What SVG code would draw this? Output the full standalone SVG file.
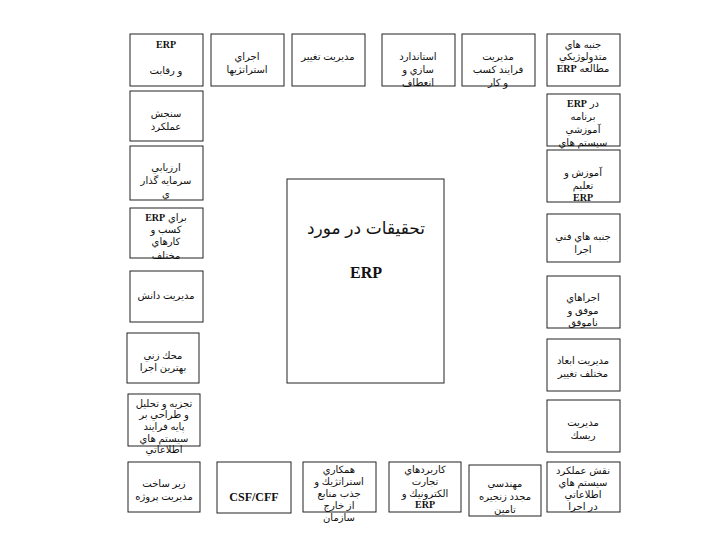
<svg xmlns="http://www.w3.org/2000/svg" width="720" height="540" viewBox="0 0 720 540">
<style>
rect{fill:#fff;stroke:#222;stroke-width:1}
text{font-family:"Liberation Sans","DejaVu Sans",sans-serif;font-size:10px;fill:#111;text-anchor:middle;direction:rtl}
.b{font-family:"Liberation Serif","DejaVu Serif",serif;font-weight:bold}
.t{font-size:17px}
.e{font-family:"Liberation Serif","DejaVu Serif",serif;font-weight:bold;font-size:16px}
.c{font-family:"Liberation Serif","DejaVu Serif",serif;font-weight:bold;font-size:12px}
</style>
<rect x="0" y="0" width="720" height="540" style="fill:#fff;stroke:none"/>
<g id="connectors"/>
<g id="n-center"><rect x="287" y="179" width="157" height="204"/>
<text class="t" x="366" y="234">تحقيقات در مورد</text>
<text class="e" x="366" y="278">ERP</text></g>

<g id="n-top1"><rect x="130" y="34" width="73" height="52"/>
<text class="b" x="166" y="48">ERP</text><text x="166" y="74">و رقابت</text></g>
<g id="n-top2"><rect x="211" y="34" width="73" height="52"/>
<text x="247" y="60">اجراي</text><text x="247" y="73">استراتژيها</text></g>
<g id="n-top3"><rect x="292" y="34" width="73" height="52"/>
<text x="328" y="60">مديريت تغيير</text></g>
<g id="n-top4"><rect x="382" y="34" width="73" height="52"/>
<text x="418" y="60">استاندارد</text><text x="418" y="73">سازي و</text><text x="418" y="86">انعطاف</text></g>
<g id="n-top5"><rect x="462" y="34" width="73" height="52"/>
<text x="498" y="60">مديريت</text><text x="498" y="73">فرايند كسب</text><text x="498" y="86">و كار</text></g>
<g id="n-top6"><rect x="547" y="34" width="73" height="52"/>
<text x="583" y="48">جنبه هاي</text><text x="583" y="60">متدولوژيكي</text><text x="583" y="72">مطالعه <tspan class="b">ERP</tspan></text></g>

<g id="n-r1"><rect x="547" y="94" width="73" height="52"/>
<text x="583" y="107">در <tspan class="b">ERP</tspan></text><text x="583" y="120">برنامه</text><text x="583" y="133">آموزشي</text><text x="583" y="146">سيستم هاي</text><text x="583" y="159">اطلاعاتي</text></g>
<g id="n-r2"><rect x="547" y="150" width="73" height="52"/>
<text x="583" y="176">آموزش و</text><text x="583" y="189">تعليم</text><text class="b" x="583" y="201">ERP</text></g>
<g id="n-r3"><rect x="547" y="214" width="73" height="48"/>
<text x="583" y="240">جنبه هاي فني</text><text x="583" y="253">اجرا</text></g>
<g id="n-r4"><rect x="547" y="276" width="73" height="52"/>
<text x="583" y="301">اجراهاي</text><text x="583" y="314">موفق و</text><text x="583" y="326">ناموفق</text></g>
<g id="n-r5"><rect x="547" y="339" width="73" height="52"/>
<text x="583" y="364">مديريت ابعاد</text><text x="583" y="377">مختلف تغيير</text></g>
<g id="n-r6"><rect x="547" y="400" width="73" height="52"/>
<text x="583" y="426">مديريت</text><text x="583" y="439">ريسك</text></g>
<g id="n-r7"><rect x="547" y="462" width="73" height="50"/>
<text x="583" y="474">نقش عملكرد</text><text x="583" y="486">سيستم هاي</text><text x="583" y="498">اطلاعاتي</text><text x="583" y="510">در اجرا</text></g>

<g id="n-l1"><rect x="130" y="91" width="73" height="50"/>
<text x="166" y="117">سنجش</text><text x="166" y="130">عملكرد</text></g>
<g id="n-l2"><rect x="130" y="146" width="73" height="54"/>
<text x="166" y="171">ارزيابي</text><text x="166" y="184">سرمايه گذار</text><text x="166" y="197">ي</text></g>
<g id="n-l3"><rect x="130" y="208" width="73" height="50"/>
<text x="166" y="221">براي <tspan class="b">ERP</tspan></text><text x="166" y="233">كسب و</text><text x="166" y="245">كارهاي</text><text x="166" y="259">مختلف</text></g>
<g id="n-l4"><rect x="130" y="271" width="73" height="51"/>
<text x="166" y="299">مديريت دانش</text></g>
<g id="n-l5"><rect x="127" y="333" width="72" height="50"/>
<text x="163" y="359">محك زني</text><text x="163" y="371">بهترين اجرا</text></g>
<g id="n-l6"><rect x="128" y="394" width="72" height="52"/>
<text x="164" y="407">تجزيه و تحليل</text><text x="164" y="418">و طراحي بر</text><text x="164" y="430">پايه فرايند</text><text x="164" y="442">سيستم هاي</text><text x="164" y="453">اطلاعاتي</text></g>
<g id="n-l7"><rect x="128" y="462" width="72" height="50"/>
<text x="164" y="487">زير ساخت</text><text x="164" y="500">مديريت پروژه</text></g>

<g id="n-b1"><rect x="217" y="462" width="74" height="51"/>
<text class="c" x="254" y="501">CSF/CFF</text></g>
<g id="n-b2"><rect x="303" y="462" width="73" height="50"/>
<text x="339" y="473">همكاري</text><text x="339" y="485">استراتژيك و</text><text x="339" y="497">جذب منابع</text><text x="339" y="509">از خارج</text><text x="339" y="521">سازمان</text></g>
<g id="n-b3"><rect x="389" y="462" width="72" height="50"/>
<text x="425" y="473">كاربردهاي</text><text x="425" y="485">تجارت</text><text x="425" y="497">الكترونيك و</text><text class="b" x="425" y="508">ERP</text></g>
<g id="n-b4"><rect x="469" y="465" width="72" height="51"/>
<text x="505" y="487">مهندسي</text><text x="505" y="500">مجدد زنجيره</text><text x="505" y="513">تامين</text></g>
</svg>
